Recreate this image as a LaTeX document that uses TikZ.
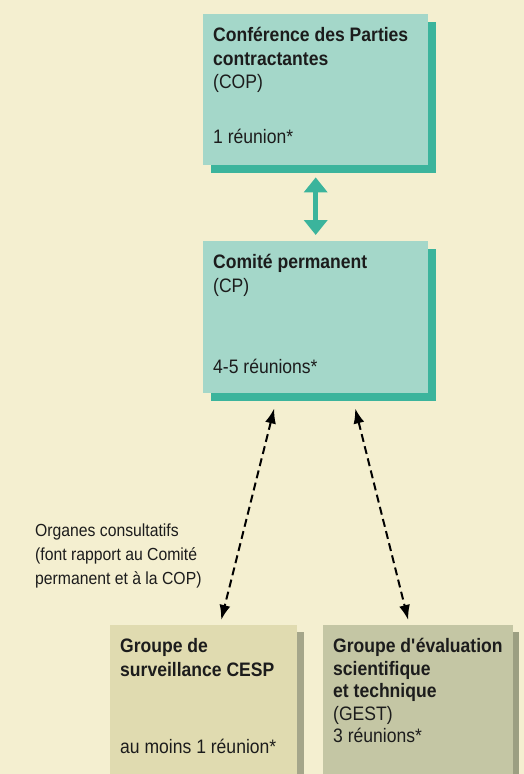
\documentclass[tikz,border=0pt]{standalone}
\usepackage{fontspec}
\setmainfont[FakeStretch=0.9]{Liberation Sans}
\usetikzlibrary{arrows.meta,shadows}

\definecolor{bgcream}{HTML}{F4EFD0}
\definecolor{copfront}{HTML}{A4D7C9}
\definecolor{copshade}{HTML}{3BB49C}
\definecolor{cespfront}{HTML}{E0DBB0}
\definecolor{cespshade}{HTML}{A5A68A}
\definecolor{gestfront}{HTML}{C4C6A4}
\definecolor{gestshade}{HTML}{9C9F82}
\definecolor{inktext}{HTML}{1C1C1C}

% text of a panel: fixed height, set from the top
\newcommand{\paneltext}[3]{\parbox[t][#1][t]{#2}{\raggedright\rule{0pt}{17.5pt}#3}}

\begin{document}
\begin{tikzpicture}[x=1pt,y=-1pt,
    panel/.style={anchor=north west, inner sep=10pt, text=inktext,
        font=\fontsize{19.5}{23.5}\selectfont},
    tealpanel/.style={panel, fill=copfront,
        drop shadow={shadow xshift=8pt, shadow yshift=-8pt, fill=copshade, opacity=1}},
    cesppanel/.style={panel, fill=cespfront,
        drop shadow={shadow xshift=7pt, shadow yshift=-7pt, fill=cespshade, opacity=1}},
    gestpanel/.style={panel, fill=gestfront,
        drop shadow={shadow xshift=6pt, shadow yshift=-7pt, fill=gestshade, opacity=1}},
    notetext/.style={anchor=north west, align=left, inner sep=0pt, text=inktext,
        font=\fontsize{17.5}{24}\selectfont},
    dblarrow/.style={copshade, line width=5pt,
        {Triangle[width=23pt,length=15pt]}-{Triangle[width=23pt,length=15pt]}},
    linkarrow/.style={black, line width=2pt, dash pattern=on 8pt off 4.5pt,
        {Latex[length=15pt,width=11pt]}-{Latex[length=15pt,width=11pt]}}]

    \useasboundingbox (0,0) rectangle (524,774);
    \clip (0,0) rectangle (524,774);
    \fill[bgcream] (0,0) rectangle (524,774);

    % top of the structure
    \node[tealpanel] (cop) at (203,14) {\paneltext{131pt}{205pt}{\textbf{Conférence des Parties}\\\textbf{contractantes}\\(COP)\\[31.5pt]1 réunion*}};
    \node[tealpanel] (cp) at (203,241) {\paneltext{132pt}{205pt}{\textbf{Comité permanent}\\(CP)\\[57.5pt]4-5 réunions*}};

    \draw[dblarrow, shorten <=12pt, shorten >=6pt] (cop.south) -- (cp.north);

    % advisory bodies
    \node[notetext] (note) at (35,524) {Organes consultatifs\\(font rapport au Comité\\permanent et à la COP)};

    \node[cesppanel] (cesp) at (110,625) {\paneltext{160pt}{167pt}{\textbf{Groupe de}\\\textbf{surveillance CESP}\\[53.5pt]au moins 1 réunion*}};
    \node[gestpanel] (gest) at (323,625) {\paneltext{160pt}{170pt}{\baselineskip=22.5pt\textbf{Groupe d\textquotesingle évaluation}\\\textbf{scientifique}\\\textbf{et technique}\\(GEST)\\3 réunions*}};

    \draw[linkarrow] ([xshift=-41.5pt,yshift=-15pt]cp.south) -- ([xshift=17.5pt,yshift=5pt]cesp.north);
    \draw[linkarrow] ([xshift=39.5pt,yshift=-15pt]cp.south) -- ([xshift=-10pt,yshift=5pt]gest.north);

\end{tikzpicture}
\end{document}
